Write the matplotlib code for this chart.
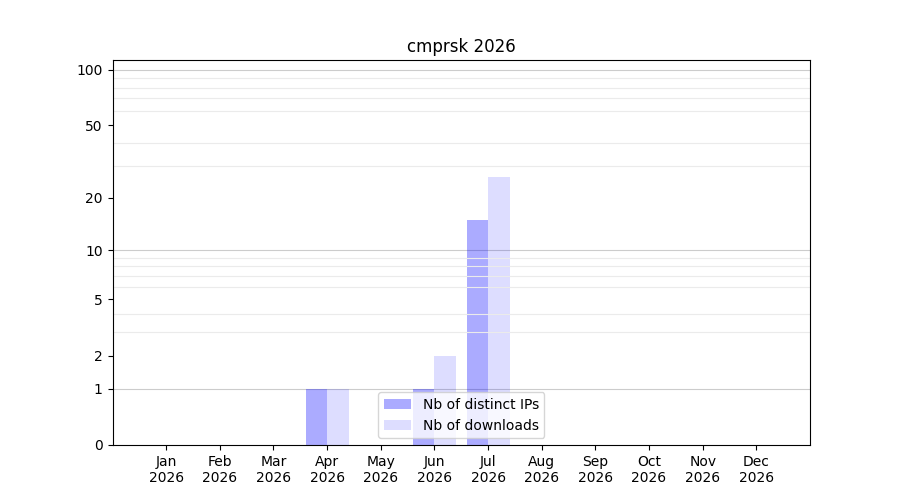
import numpy as np
from matplotlib import pyplot as plt

year = 2026
months = ["Jan", "Feb", "Mar", "Apr", "May", "Jun",
          "Jul", "Aug", "Sep", "Oct", "Nov", "Dec"]
distinct_ips = [0, 0, 0, 1, 0, 1, 15, 0, 0, 0, 0, 0]
downloads = [0, 0, 0, 1, 0, 2, 26, 0, 0, 0, 0, 0]
ytick_values = [0, 1, 2, 5, 10, 20, 50, 100]


def forward(y):
    return np.log10(np.maximum(y, 0) + 1)


def inverse(y):
    return 10 ** y - 1


fig, ax = plt.subplots(figsize=(9, 5), dpi=100)
x = np.arange(1, len(months) + 1)

ax.bar(x - 0.2, distinct_ips, width=0.4, color="blue", alpha=0.33,
       label="Nb of distinct IPs")
ax.bar(x + 0.2, downloads, width=0.4, color="blue", alpha=0.133,
       label="Nb of downloads")

ax.set_yscale("function", functions=(forward, inverse))
ax.set_ylim(0, 113)
ax.set_xlim(0, 13)

ax.set_yticks(ytick_values)
ax.set_yticklabels([str(v) for v in ytick_values])
minor = [v for v in list(range(2, 10)) + list(range(20, 100, 10))]
ax.set_yticks(minor, minor=True)
ax.tick_params(axis="y", which="minor", length=0)
ax.grid(True, axis="y", which="minor", color="#ebebeb", linewidth=0.8)
for v in [1, 10, 100]:
    ax.axhline(v, color="#cccccc", linewidth=0.8, zorder=0.5)

ax.set_xticks(x)
ax.set_xticklabels([f"{m}\n{year}" for m in months])

ax.set_title(f"cmprsk {year}")
ax.legend(loc="lower center")

plt.savefig("out.png")
